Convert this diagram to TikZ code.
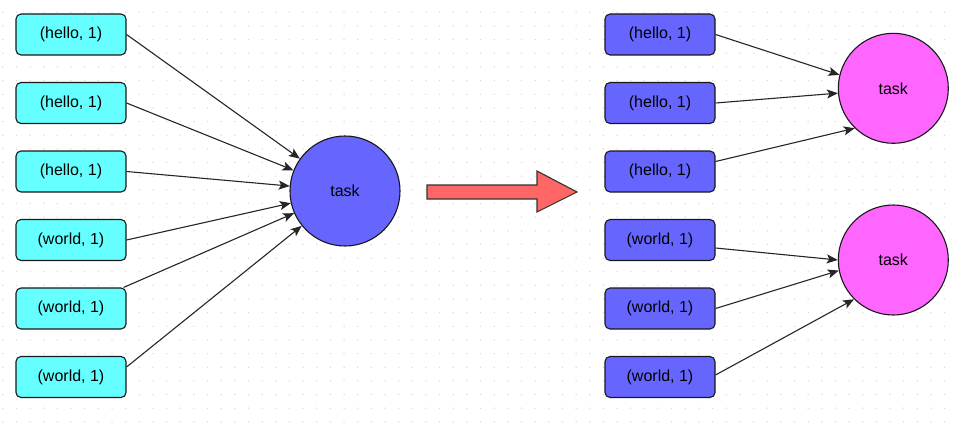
\documentclass[tikz,border=0pt]{standalone}
\usepackage{fontspec}
\setmainfont{Liberation Sans}
\usetikzlibrary{arrows.meta}
\definecolor{cyanfill}{HTML}{66FFFF}
\definecolor{bluefill}{HTML}{6666FF}
\definecolor{pinkfill}{HTML}{FF66FF}
\definecolor{redfill}{HTML}{FF6666}
\definecolor{dotgray}{HTML}{D8D8D8}
\begin{document}
\begin{tikzpicture}[x=1pt,y=-1pt,
  kvbox/.style={draw=black!90, line width=1.1pt, rounded corners=5pt,
    minimum width=110pt, minimum height=41pt, inner sep=0pt,
    font=\fontsize{16}{19}\selectfont},
  lbox/.style={kvbox, fill=cyanfill},
  rbox/.style={kvbox, fill=bluefill},
  taskcircle/.style={circle, draw=black!90, line width=1.1pt, minimum size=110pt,
    inner sep=0pt, font=\fontsize{16}{19}\selectfont},
  conn/.style={draw=black!85, line width=1.1pt,
    -{Stealth[length=11pt,width=9pt,inset=2.5pt]}},
  bigarrow/.style={fill=redfill, draw=black!80, line width=1.1pt, line join=miter}]
\useasboundingbox (0,0) rectangle (953,428);
\fill[white] (0,0) rectangle (953,428);
\foreach \i in {0,...,69}{
  \foreach \j in {0,...,31}{
    \fill[dotgray] (2.8+13.65*\i, 12.35+13.65*\j) circle (0.75pt);
  }
}
% left boxes
\node[lbox] (l1) at (71,34.5) {(hello, 1)};
\node[lbox] (l2) at (71,103) {(hello, 1)};
\node[lbox] (l3) at (71,171.5) {(hello, 1)};
\node[lbox] (l4) at (71,240) {(world, 1)};
\node[lbox] (l5) at (71,308.5) {(world, 1)};
\node[lbox] (l6) at (71,377) {(world, 1)};
% right boxes
\node[rbox] (r1) at (660,34.5) {(hello, 1)};
\node[rbox] (r2) at (660,103) {(hello, 1)};
\node[rbox] (r3) at (660,171.5) {(hello, 1)};
\node[rbox] (r4) at (660,240) {(world, 1)};
\node[rbox] (r5) at (660,308.5) {(world, 1)};
\node[rbox] (r6) at (660,377) {(world, 1)};
% circles
\node[taskcircle, fill=bluefill] (c) at (345,191) {task};
\node[taskcircle, fill=pinkfill] (t1) at (893.3,88.3) {task};
\node[taskcircle, fill=pinkfill] (t2) at (893.3,260) {task};
% left connectors
\draw[conn] (l1.east) -- (c);
\draw[conn] (l2.east) -- (c);
\draw[conn] (l3.east) -- (c);
\draw[conn] (l4.east) -- (c);
\draw[conn] ([xshift=-3pt]l5.north east) -- (c);
\draw[conn] ([yshift=10pt]l6.east) -- (c);
% right connectors
\draw[conn] (r1.east) -- (t1.166);
\draw[conn] (r2.east) -- (t1.185);
\draw[conn] ([yshift=10pt]r3.east) -- (t1.226);
\draw[conn] ([yshift=-8pt]r4.east) -- (t2.180);
\draw[conn] (r5.east) -- (t2.191);
\draw[conn] ([yshift=2pt]r6.east) -- (t2.225);
% big arrow
\draw[bigarrow] (427,185) -- (537,185) -- (537,171) -- (577,192) -- (537,212) -- (537,199) -- (427,199) -- cycle;
\end{tikzpicture}
\end{document}
